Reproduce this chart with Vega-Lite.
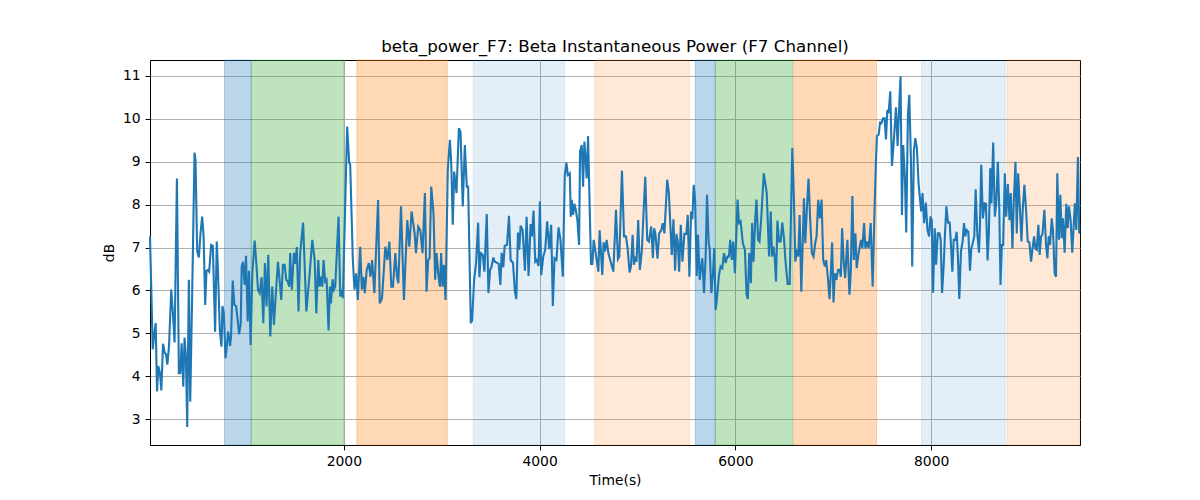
{
  "$schema": "https://vega.github.io/schema/vega-lite/v6.json",
  "width": 930,
  "height": 385,
  "autosize": "none",
  "padding": {"left": 150, "top": 60, "right": 120, "bottom": 55},
  "title": {
    "text": "beta_power_F7: Beta Instantaneous Power (F7 Channel)",
    "font": "DejaVu Sans",
    "fontSize": 16.7,
    "fontWeight": "normal",
    "color": "black",
    "anchor": "middle",
    "baseline": "alphabetic",
    "offset": -9
  },
  "config": {
    "font": "DejaVu Sans",
    "view": {"stroke": "black", "strokeWidth": 1},
    "axis": {
      "labelFont": "DejaVu Sans",
      "labelFontSize": 13.9,
      "labelColor": "black",
      "titleFont": "DejaVu Sans",
      "titleFontSize": 13.9,
      "titleFontWeight": "normal",
      "titleColor": "black",
      "tickColor": "black",
      "tickSize": 4.9,
      "tickWidth": 1,
      "domainColor": "black",
      "domainWidth": 1,
      "gridColor": "#b0b0b0",
      "gridWidth": 1,
      "labelPadding": 4.9,
      "zindex": 1
    }
  },
  "datasets": {
    "bands": [
      {"start": 781, "end": 1054, "kind": "A"},
      {"start": 1054, "end": 2000, "kind": "B"},
      {"start": 2133, "end": 3057, "kind": "C"},
      {"start": 3322, "end": 4256, "kind": "D"},
      {"start": 4563, "end": 5533, "kind": "E"},
      {"start": 5590, "end": 5794, "kind": "A"},
      {"start": 5794, "end": 6586, "kind": "B"},
      {"start": 6596, "end": 7442, "kind": "C"},
      {"start": 7902, "end": 8756, "kind": "D"},
      {"start": 8774, "end": 9520, "kind": "E"}
    ],
    "power": [
      {"t": 20, "v": 7.26}, {"t": 48, "v": 4.63}, {"t": 61, "v": 4.93}, {"t": 78, "v": 5.24},
      {"t": 92, "v": 3.65}, {"t": 105, "v": 4.24}, {"t": 122, "v": 4.07}, {"t": 136, "v": 3.67},
      {"t": 153, "v": 4.76}, {"t": 170, "v": 4.55}, {"t": 183, "v": 4.52}, {"t": 197, "v": 4.27},
      {"t": 214, "v": 4.69}, {"t": 237, "v": 6.02}, {"t": 254, "v": 5.47}, {"t": 271, "v": 4.79},
      {"t": 295, "v": 8.61}, {"t": 315, "v": 4.07}, {"t": 329, "v": 4.07}, {"t": 343, "v": 4.77},
      {"t": 360, "v": 3.76}, {"t": 373, "v": 4.90}, {"t": 387, "v": 4.46}, {"t": 400, "v": 2.82},
      {"t": 417, "v": 6.25}, {"t": 431, "v": 3.41}, {"t": 451, "v": 5.94}, {"t": 475, "v": 9.21},
      {"t": 485, "v": 9.04}, {"t": 502, "v": 6.91}, {"t": 519, "v": 6.77}, {"t": 536, "v": 7.33},
      {"t": 553, "v": 7.72}, {"t": 567, "v": 7.30}, {"t": 584, "v": 5.66}, {"t": 597, "v": 6.46},
      {"t": 611, "v": 6.48}, {"t": 624, "v": 6.44}, {"t": 645, "v": 7.06}, {"t": 662, "v": 7.04},
      {"t": 685, "v": 5.04}, {"t": 702, "v": 7.14}, {"t": 713, "v": 6.56}, {"t": 733, "v": 5.08},
      {"t": 750, "v": 4.69}, {"t": 760, "v": 5.64}, {"t": 774, "v": 5.47}, {"t": 791, "v": 4.42},
      {"t": 804, "v": 4.69}, {"t": 818, "v": 5.04}, {"t": 838, "v": 4.71}, {"t": 848, "v": 4.93},
      {"t": 865, "v": 6.23}, {"t": 882, "v": 5.66}, {"t": 899, "v": 5.64}, {"t": 916, "v": 5.31},
      {"t": 930, "v": 4.98}, {"t": 947, "v": 5.24}, {"t": 957, "v": 6.56}, {"t": 970, "v": 6.67},
      {"t": 987, "v": 6.13}, {"t": 1001, "v": 6.81}, {"t": 1018, "v": 5.28}, {"t": 1031, "v": 6.46},
      {"t": 1048, "v": 4.73}, {"t": 1065, "v": 6.40}, {"t": 1089, "v": 7.16}, {"t": 1106, "v": 6.64},
      {"t": 1123, "v": 6.02}, {"t": 1140, "v": 5.94}, {"t": 1160, "v": 6.31}, {"t": 1177, "v": 5.24},
      {"t": 1194, "v": 6.64}, {"t": 1211, "v": 5.63}, {"t": 1228, "v": 6.83}, {"t": 1249, "v": 4.93},
      {"t": 1269, "v": 6.09}, {"t": 1286, "v": 5.20}, {"t": 1306, "v": 5.94}, {"t": 1327, "v": 6.67},
      {"t": 1344, "v": 6.25}, {"t": 1361, "v": 5.78}, {"t": 1378, "v": 6.60}, {"t": 1395, "v": 6.60},
      {"t": 1412, "v": 6.25}, {"t": 1428, "v": 6.21}, {"t": 1442, "v": 6.09}, {"t": 1452, "v": 6.87},
      {"t": 1469, "v": 6.02}, {"t": 1490, "v": 6.88}, {"t": 1503, "v": 6.62}, {"t": 1520, "v": 7.01},
      {"t": 1537, "v": 5.51}, {"t": 1554, "v": 6.87}, {"t": 1584, "v": 7.58}, {"t": 1617, "v": 5.51},
      {"t": 1651, "v": 6.40}, {"t": 1678, "v": 7.18}, {"t": 1702, "v": 6.71}, {"t": 1719, "v": 5.47},
      {"t": 1739, "v": 6.71}, {"t": 1753, "v": 6.09}, {"t": 1766, "v": 6.32}, {"t": 1780, "v": 6.09},
      {"t": 1793, "v": 6.71}, {"t": 1810, "v": 6.21}, {"t": 1824, "v": 6.25}, {"t": 1844, "v": 5.07},
      {"t": 1858, "v": 6.09}, {"t": 1868, "v": 5.70}, {"t": 1885, "v": 6.26}, {"t": 1898, "v": 6.02},
      {"t": 1912, "v": 6.09}, {"t": 1946, "v": 7.72}, {"t": 1963, "v": 5.86}, {"t": 1980, "v": 6.02},
      {"t": 1990, "v": 5.82}, {"t": 2034, "v": 9.82}, {"t": 2055, "v": 8.97}, {"t": 2065, "v": 8.93},
      {"t": 2092, "v": 6.71}, {"t": 2109, "v": 6.02}, {"t": 2126, "v": 6.40}, {"t": 2143, "v": 5.78},
      {"t": 2167, "v": 7.02}, {"t": 2184, "v": 6.02}, {"t": 2200, "v": 6.32}, {"t": 2214, "v": 5.94},
      {"t": 2234, "v": 6.48}, {"t": 2255, "v": 6.64}, {"t": 2272, "v": 6.32}, {"t": 2289, "v": 6.71},
      {"t": 2312, "v": 5.94}, {"t": 2350, "v": 8.11}, {"t": 2367, "v": 5.70}, {"t": 2390, "v": 5.82},
      {"t": 2424, "v": 7.02}, {"t": 2445, "v": 6.71}, {"t": 2465, "v": 7.14}, {"t": 2485, "v": 6.09},
      {"t": 2502, "v": 6.09}, {"t": 2526, "v": 6.87}, {"t": 2543, "v": 6.32}, {"t": 2557, "v": 6.17},
      {"t": 2584, "v": 7.96}, {"t": 2614, "v": 5.78}, {"t": 2648, "v": 7.64}, {"t": 2669, "v": 7.02},
      {"t": 2692, "v": 7.84}, {"t": 2723, "v": 7.33}, {"t": 2737, "v": 6.87}, {"t": 2760, "v": 7.49},
      {"t": 2781, "v": 7.41}, {"t": 2804, "v": 6.87}, {"t": 2828, "v": 8.27}, {"t": 2845, "v": 5.97},
      {"t": 2862, "v": 6.71}, {"t": 2876, "v": 6.75}, {"t": 2893, "v": 8.42}, {"t": 2916, "v": 7.80},
      {"t": 2933, "v": 6.25}, {"t": 2947, "v": 6.87}, {"t": 2964, "v": 6.40}, {"t": 2981, "v": 6.09},
      {"t": 2994, "v": 6.87}, {"t": 3008, "v": 6.09}, {"t": 3022, "v": 6.60}, {"t": 3039, "v": 5.78},
      {"t": 3062, "v": 8.81}, {"t": 3083, "v": 9.51}, {"t": 3096, "v": 9.04}, {"t": 3113, "v": 7.53},
      {"t": 3127, "v": 8.77}, {"t": 3151, "v": 8.27}, {"t": 3175, "v": 9.78}, {"t": 3192, "v": 9.70},
      {"t": 3215, "v": 7.96}, {"t": 3236, "v": 9.39}, {"t": 3256, "v": 8.42}, {"t": 3270, "v": 8.42},
      {"t": 3297, "v": 5.24}, {"t": 3310, "v": 5.30}, {"t": 3331, "v": 6.25}, {"t": 3351, "v": 6.64},
      {"t": 3372, "v": 7.58}, {"t": 3385, "v": 6.31}, {"t": 3399, "v": 6.87}, {"t": 3419, "v": 6.83},
      {"t": 3436, "v": 6.44}, {"t": 3460, "v": 7.78}, {"t": 3477, "v": 5.94}, {"t": 3494, "v": 6.48},
      {"t": 3507, "v": 6.54}, {"t": 3528, "v": 6.77}, {"t": 3541, "v": 6.67}, {"t": 3562, "v": 6.65},
      {"t": 3582, "v": 6.62}, {"t": 3599, "v": 6.13}, {"t": 3612, "v": 6.88}, {"t": 3629, "v": 6.54},
      {"t": 3643, "v": 7.04}, {"t": 3667, "v": 7.06}, {"t": 3687, "v": 7.74}, {"t": 3704, "v": 6.71},
      {"t": 3728, "v": 6.64}, {"t": 3748, "v": 5.97}, {"t": 3762, "v": 5.80}, {"t": 3779, "v": 7.35},
      {"t": 3792, "v": 6.95}, {"t": 3806, "v": 7.51}, {"t": 3826, "v": 7.41}, {"t": 3850, "v": 6.46},
      {"t": 3867, "v": 7.72}, {"t": 3887, "v": 6.34}, {"t": 3908, "v": 7.55}, {"t": 3921, "v": 7.26},
      {"t": 3938, "v": 7.86}, {"t": 3955, "v": 6.67}, {"t": 3969, "v": 6.71}, {"t": 3989, "v": 6.57},
      {"t": 4003, "v": 8.07}, {"t": 4016, "v": 6.36}, {"t": 4037, "v": 6.79}, {"t": 4057, "v": 6.95},
      {"t": 4077, "v": 7.61}, {"t": 4098, "v": 6.96}, {"t": 4118, "v": 7.53}, {"t": 4135, "v": 5.64},
      {"t": 4152, "v": 6.75}, {"t": 4172, "v": 6.71}, {"t": 4193, "v": 7.47}, {"t": 4213, "v": 7.18},
      {"t": 4237, "v": 6.32}, {"t": 4257, "v": 8.69}, {"t": 4274, "v": 8.98}, {"t": 4288, "v": 8.69},
      {"t": 4308, "v": 8.73}, {"t": 4318, "v": 7.72}, {"t": 4328, "v": 8.11}, {"t": 4342, "v": 7.76},
      {"t": 4355, "v": 8.02}, {"t": 4369, "v": 7.88}, {"t": 4386, "v": 7.64}, {"t": 4403, "v": 7.06},
      {"t": 4413, "v": 9.24}, {"t": 4430, "v": 9.39}, {"t": 4444, "v": 8.42}, {"t": 4457, "v": 9.47},
      {"t": 4471, "v": 9.04}, {"t": 4481, "v": 8.61}, {"t": 4495, "v": 9.60}, {"t": 4512, "v": 7.88},
      {"t": 4525, "v": 6.62}, {"t": 4539, "v": 6.62}, {"t": 4552, "v": 7.18}, {"t": 4573, "v": 6.87},
      {"t": 4600, "v": 6.44}, {"t": 4613, "v": 7.40}, {"t": 4627, "v": 6.87}, {"t": 4640, "v": 6.36},
      {"t": 4654, "v": 7.12}, {"t": 4668, "v": 6.91}, {"t": 4685, "v": 7.18}, {"t": 4702, "v": 6.87},
      {"t": 4753, "v": 6.44}, {"t": 4780, "v": 7.88}, {"t": 4800, "v": 6.73}, {"t": 4814, "v": 6.79},
      {"t": 4841, "v": 8.79}, {"t": 4862, "v": 7.26}, {"t": 4882, "v": 7.26}, {"t": 4899, "v": 6.98},
      {"t": 4919, "v": 6.42}, {"t": 4933, "v": 6.56}, {"t": 4950, "v": 7.30}, {"t": 4963, "v": 6.60},
      {"t": 4977, "v": 6.79}, {"t": 4990, "v": 6.67}, {"t": 5007, "v": 7.64}, {"t": 5024, "v": 6.48},
      {"t": 5045, "v": 6.95}, {"t": 5058, "v": 7.64}, {"t": 5079, "v": 8.65}, {"t": 5099, "v": 7.18},
      {"t": 5116, "v": 7.14}, {"t": 5140, "v": 7.49}, {"t": 5157, "v": 6.75}, {"t": 5170, "v": 7.45},
      {"t": 5184, "v": 7.30}, {"t": 5204, "v": 6.74}, {"t": 5221, "v": 7.33}, {"t": 5242, "v": 7.40},
      {"t": 5258, "v": 7.57}, {"t": 5275, "v": 7.33}, {"t": 5303, "v": 8.58}, {"t": 5320, "v": 8.27},
      {"t": 5350, "v": 6.83}, {"t": 5367, "v": 7.66}, {"t": 5384, "v": 6.46}, {"t": 5398, "v": 7.32},
      {"t": 5411, "v": 7.14}, {"t": 5425, "v": 6.44}, {"t": 5442, "v": 7.53}, {"t": 5459, "v": 6.67},
      {"t": 5479, "v": 7.32}, {"t": 5499, "v": 7.32}, {"t": 5513, "v": 7.76}, {"t": 5530, "v": 6.32},
      {"t": 5547, "v": 7.84}, {"t": 5560, "v": 7.66}, {"t": 5574, "v": 8.46}, {"t": 5588, "v": 8.11},
      {"t": 5605, "v": 6.34}, {"t": 5618, "v": 7.30}, {"t": 5635, "v": 6.25}, {"t": 5649, "v": 6.52},
      {"t": 5662, "v": 6.75}, {"t": 5679, "v": 5.94}, {"t": 5696, "v": 6.79}, {"t": 5710, "v": 8.23},
      {"t": 5727, "v": 7.10}, {"t": 5737, "v": 6.98}, {"t": 5754, "v": 5.94}, {"t": 5771, "v": 6.40},
      {"t": 5784, "v": 6.98}, {"t": 5798, "v": 5.55}, {"t": 5815, "v": 5.90}, {"t": 5832, "v": 6.36},
      {"t": 5849, "v": 6.56}, {"t": 5866, "v": 6.52}, {"t": 5883, "v": 6.87}, {"t": 5900, "v": 6.64},
      {"t": 5917, "v": 6.79}, {"t": 5934, "v": 6.79}, {"t": 5947, "v": 7.18}, {"t": 5964, "v": 6.71},
      {"t": 5978, "v": 7.14}, {"t": 5995, "v": 6.40}, {"t": 6022, "v": 8.12}, {"t": 6036, "v": 7.57},
      {"t": 6053, "v": 7.61}, {"t": 6076, "v": 7.10}, {"t": 6097, "v": 6.95}, {"t": 6114, "v": 5.90},
      {"t": 6127, "v": 5.80}, {"t": 6141, "v": 6.87}, {"t": 6158, "v": 6.17}, {"t": 6171, "v": 7.57},
      {"t": 6185, "v": 6.67}, {"t": 6202, "v": 7.64}, {"t": 6215, "v": 8.12}, {"t": 6232, "v": 7.18},
      {"t": 6246, "v": 7.14}, {"t": 6263, "v": 7.66}, {"t": 6290, "v": 8.73}, {"t": 6320, "v": 8.27},
      {"t": 6344, "v": 6.79}, {"t": 6361, "v": 7.84}, {"t": 6374, "v": 6.79}, {"t": 6388, "v": 7.02},
      {"t": 6401, "v": 6.79}, {"t": 6415, "v": 6.21}, {"t": 6429, "v": 7.63}, {"t": 6446, "v": 7.14},
      {"t": 6462, "v": 7.14}, {"t": 6479, "v": 7.58}, {"t": 6496, "v": 7.22}, {"t": 6513, "v": 6.64},
      {"t": 6534, "v": 6.15}, {"t": 6554, "v": 6.15}, {"t": 6581, "v": 9.32}, {"t": 6598, "v": 8.11},
      {"t": 6612, "v": 6.67}, {"t": 6629, "v": 6.95}, {"t": 6642, "v": 6.79}, {"t": 6656, "v": 7.76},
      {"t": 6673, "v": 5.97}, {"t": 6686, "v": 7.02}, {"t": 6700, "v": 8.15}, {"t": 6714, "v": 7.10},
      {"t": 6731, "v": 7.96}, {"t": 6747, "v": 8.61}, {"t": 6764, "v": 7.64}, {"t": 6781, "v": 6.87},
      {"t": 6798, "v": 6.79}, {"t": 6815, "v": 7.10}, {"t": 6829, "v": 7.26}, {"t": 6846, "v": 8.11},
      {"t": 6863, "v": 7.68}, {"t": 6880, "v": 8.12}, {"t": 6897, "v": 6.71}, {"t": 6914, "v": 6.56},
      {"t": 6927, "v": 6.71}, {"t": 6944, "v": 6.32}, {"t": 6961, "v": 5.80}, {"t": 6975, "v": 6.40},
      {"t": 6988, "v": 7.12}, {"t": 7002, "v": 5.72}, {"t": 7016, "v": 6.40}, {"t": 7032, "v": 6.25},
      {"t": 7049, "v": 6.48}, {"t": 7066, "v": 6.48}, {"t": 7077, "v": 6.32}, {"t": 7090, "v": 7.45},
      {"t": 7107, "v": 6.64}, {"t": 7121, "v": 6.29}, {"t": 7144, "v": 7.18}, {"t": 7165, "v": 5.90},
      {"t": 7178, "v": 6.40}, {"t": 7195, "v": 8.20}, {"t": 7209, "v": 6.71}, {"t": 7226, "v": 7.33},
      {"t": 7239, "v": 6.52}, {"t": 7256, "v": 6.83}, {"t": 7270, "v": 7.02}, {"t": 7284, "v": 7.18},
      {"t": 7297, "v": 6.98}, {"t": 7314, "v": 7.57}, {"t": 7328, "v": 6.98}, {"t": 7345, "v": 7.14},
      {"t": 7362, "v": 6.98}, {"t": 7382, "v": 7.57}, {"t": 7402, "v": 6.09}, {"t": 7423, "v": 8.03},
      {"t": 7436, "v": 9.04}, {"t": 7446, "v": 9.60}, {"t": 7463, "v": 9.63}, {"t": 7477, "v": 9.91},
      {"t": 7491, "v": 9.90}, {"t": 7508, "v": 10.01}, {"t": 7524, "v": 10.01}, {"t": 7538, "v": 9.52},
      {"t": 7552, "v": 10.21}, {"t": 7565, "v": 10.13}, {"t": 7582, "v": 10.64}, {"t": 7599, "v": 8.90},
      {"t": 7620, "v": 9.55}, {"t": 7640, "v": 10.27}, {"t": 7657, "v": 9.37}, {"t": 7674, "v": 10.36},
      {"t": 7687, "v": 10.99}, {"t": 7701, "v": 7.76}, {"t": 7714, "v": 9.39}, {"t": 7731, "v": 8.65},
      {"t": 7745, "v": 7.35}, {"t": 7762, "v": 10.09}, {"t": 7776, "v": 10.56}, {"t": 7793, "v": 9.04},
      {"t": 7806, "v": 6.56}, {"t": 7823, "v": 9.24}, {"t": 7837, "v": 9.55}, {"t": 7854, "v": 9.32},
      {"t": 7871, "v": 8.50}, {"t": 7897, "v": 7.84}, {"t": 7911, "v": 8.27}, {"t": 7928, "v": 7.57},
      {"t": 7945, "v": 8.05}, {"t": 7962, "v": 7.41}, {"t": 7979, "v": 7.26}, {"t": 7992, "v": 7.72},
      {"t": 8006, "v": 7.64}, {"t": 8019, "v": 5.95}, {"t": 8036, "v": 7.45}, {"t": 8050, "v": 6.60},
      {"t": 8067, "v": 7.33}, {"t": 8084, "v": 7.33}, {"t": 8097, "v": 7.18}, {"t": 8111, "v": 5.94},
      {"t": 8128, "v": 6.60}, {"t": 8141, "v": 7.33}, {"t": 8155, "v": 7.96}, {"t": 8172, "v": 7.58},
      {"t": 8189, "v": 7.58}, {"t": 8203, "v": 7.02}, {"t": 8216, "v": 6.44}, {"t": 8230, "v": 7.18},
      {"t": 8247, "v": 7.18}, {"t": 8260, "v": 7.37}, {"t": 8274, "v": 6.71}, {"t": 8287, "v": 5.80},
      {"t": 8304, "v": 6.91}, {"t": 8321, "v": 7.14}, {"t": 8335, "v": 7.57}, {"t": 8348, "v": 7.26},
      {"t": 8362, "v": 7.41}, {"t": 8379, "v": 7.37}, {"t": 8396, "v": 6.46}, {"t": 8410, "v": 6.98},
      {"t": 8423, "v": 7.09}, {"t": 8440, "v": 7.26}, {"t": 8454, "v": 8.36}, {"t": 8471, "v": 7.33},
      {"t": 8488, "v": 6.88}, {"t": 8498, "v": 7.49}, {"t": 8511, "v": 8.93}, {"t": 8528, "v": 7.68},
      {"t": 8545, "v": 8.03}, {"t": 8559, "v": 8.02}, {"t": 8576, "v": 6.70}, {"t": 8589, "v": 7.33},
      {"t": 8603, "v": 8.85}, {"t": 8616, "v": 8.03}, {"t": 8633, "v": 9.45}, {"t": 8650, "v": 7.72},
      {"t": 8664, "v": 8.03}, {"t": 8681, "v": 9.00}, {"t": 8695, "v": 7.96}, {"t": 8708, "v": 6.13},
      {"t": 8722, "v": 7.06}, {"t": 8735, "v": 7.06}, {"t": 8752, "v": 8.73}, {"t": 8766, "v": 7.72},
      {"t": 8783, "v": 8.48}, {"t": 8800, "v": 7.64}, {"t": 8813, "v": 8.27}, {"t": 8830, "v": 6.98},
      {"t": 8844, "v": 8.11}, {"t": 8861, "v": 9.00}, {"t": 8874, "v": 7.33}, {"t": 8888, "v": 8.73},
      {"t": 8905, "v": 7.96}, {"t": 8922, "v": 7.14}, {"t": 8935, "v": 7.88}, {"t": 8952, "v": 8.46},
      {"t": 8969, "v": 7.88}, {"t": 8986, "v": 7.14}, {"t": 9003, "v": 7.12}, {"t": 9020, "v": 6.67},
      {"t": 9034, "v": 6.96}, {"t": 9051, "v": 7.26}, {"t": 9064, "v": 6.98}, {"t": 9078, "v": 6.95},
      {"t": 9095, "v": 7.53}, {"t": 9108, "v": 6.83}, {"t": 9122, "v": 7.26}, {"t": 9136, "v": 7.30},
      {"t": 9156, "v": 7.88}, {"t": 9173, "v": 7.06}, {"t": 9187, "v": 6.75}, {"t": 9200, "v": 7.26},
      {"t": 9214, "v": 7.06}, {"t": 9231, "v": 7.68}, {"t": 9244, "v": 7.41}, {"t": 9261, "v": 6.40},
      {"t": 9275, "v": 6.32}, {"t": 9288, "v": 8.73}, {"t": 9305, "v": 7.18}, {"t": 9319, "v": 8.23},
      {"t": 9333, "v": 7.22}, {"t": 9346, "v": 7.68}, {"t": 9363, "v": 6.88}, {"t": 9380, "v": 8.02},
      {"t": 9394, "v": 7.45}, {"t": 9407, "v": 7.96}, {"t": 9424, "v": 7.64}, {"t": 9441, "v": 6.88},
      {"t": 9455, "v": 7.49}, {"t": 9468, "v": 8.03}, {"t": 9482, "v": 7.41}, {"t": 9499, "v": 9.11},
      {"t": 9512, "v": 7.33}
    ]
  },
  "layer": [
    {
      "data": {"name": "bands"},
      "transform": [{"filter": "datum.kind === 'A' || datum.kind === 'B' || datum.kind === 'C'"}],
      "mark": {"type": "rect", "strokeWidth": 1, "fillOpacity": 0.3, "strokeOpacity": 0.3},
      "encoding": {
        "x": {
          "field": "start",
          "type": "quantitative",
          "title": "Time(s)",
          "scale": {"domain": [20, 9520], "nice": false, "zero": false},
          "axis": {"values": [2000, 4000, 6000, 8000], "format": "d", "grid": true, "titlePadding": 5}
        },
        "x2": {"field": "end"},
        "color": {
          "field": "kind",
          "type": "nominal",
          "scale": {"domain": ["A", "B", "C", "D", "E"], "range": ["#1f77b4", "#2ca02c", "#ff7f0e", "#1f77b4", "#ff7f0e"]},
          "legend": null
        },
        "stroke": {
          "field": "kind",
          "type": "nominal",
          "scale": {"domain": ["A", "B", "C", "D", "E"], "range": ["#1f77b4", "#2ca02c", "#ff7f0e", "#1f77b4", "#ff7f0e"]},
          "legend": null
        }
      }
    },
    {
      "data": {"name": "bands"},
      "transform": [{"filter": "datum.kind === 'D'"}],
      "mark": {"type": "rect", "strokeWidth": 1, "fill": "#1f77b4", "stroke": "#1f77b4", "fillOpacity": 0.12, "strokeOpacity": 0.12},
      "encoding": {
        "x": {"field": "start", "type": "quantitative", "title": "Time(s)"},
        "x2": {"field": "end"}
      }
    },
    {
      "data": {"name": "bands"},
      "transform": [{"filter": "datum.kind === 'E'"}],
      "mark": {"type": "rect", "strokeWidth": 1, "fill": "#ff7f0e", "stroke": "#ff7f0e", "fillOpacity": 0.17, "strokeOpacity": 0.17},
      "encoding": {
        "x": {"field": "start", "type": "quantitative", "title": "Time(s)"},
        "x2": {"field": "end"}
      }
    },
    {
      "data": {"name": "power"},
      "mark": {"type": "line", "color": "#1f77b4", "strokeWidth": 2.1},
      "encoding": {
        "x": {"field": "t", "type": "quantitative", "title": "Time(s)"},
        "y": {
          "field": "v",
          "type": "quantitative",
          "title": "dB",
          "scale": {"domain": [2.40, 11.37], "nice": false, "zero": false},
          "axis": {"values": [3, 4, 5, 6, 7, 8, 9, 10, 11], "grid": true, "titlePadding": 6}
        }
      }
    }
  ]
}
